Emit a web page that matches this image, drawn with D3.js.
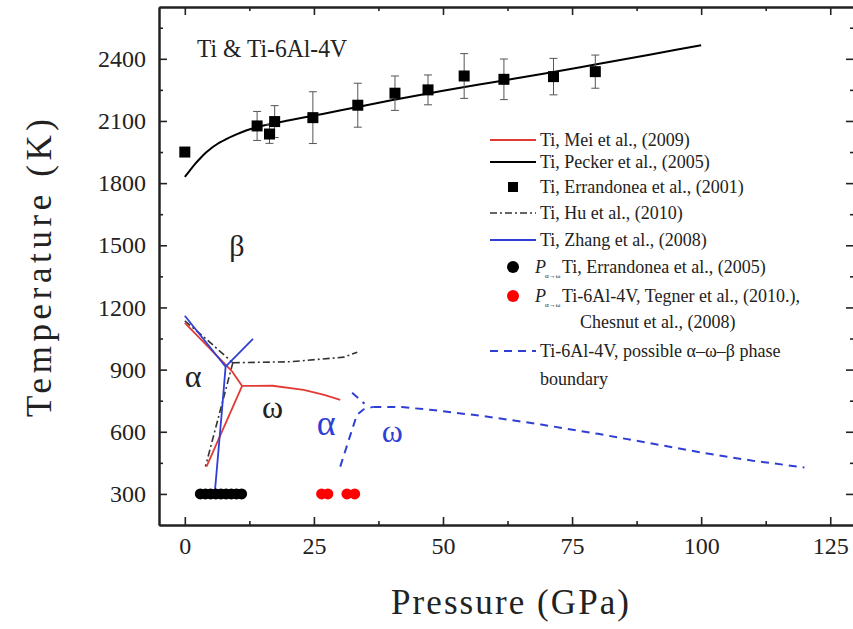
<!DOCTYPE html>
<html><head><meta charset="utf-8">
<script src="https://cdn.jsdelivr.net/npm/d3@7"></script>
<style>
html,body{margin:0;padding:0;background:#fff;}
svg{display:block;font-family:"Liberation Serif","Times New Roman",serif;}
</style>
</head><body>
<svg id="c" width="853" height="629"></svg>
<script>
// ---------- data ----------
const xTickValues = [0, 25, 50, 75, 100, 125];
const xMinorTicks = [12.5, 37.5, 62.5, 87.5, 112.5];
const yTickValues = [300, 600, 900, 1200, 1500, 1800, 2100, 2400];
const yMinorTicks = [450, 750, 1050, 1350, 1650, 1950, 2250, 2550];

// Ti, Pecker et al. (2005) melting curve
const peckerP = [0, 1, 2, 3, 4, 5, 6, 8, 10, 12, 14, 17, 20, 25, 30, 40, 50, 60, 70, 80, 90, 100];
const peckerT = [1830, 1862, 1893, 1920, 1945, 1966, 1984, 2012, 2035, 2055, 2070, 2087, 2102, 2126, 2150, 2200, 2246, 2288, 2330, 2375, 2420, 2465];

// Ti, Errandonea et al. (2001) melting points with error bars
const errandoneaP = [0, 14.0, 16.4, 17.4, 24.8, 33.5, 40.7, 47.1, 54.1, 61.8, 71.4, 79.5];
const errandoneaT = [1950, 2076, 2037, 2097, 2116, 2176, 2234, 2250, 2317, 2301, 2314, 2338];
const errandoneaErr = [0, 70, 45, 77, 125, 106, 83, 72, 108, 98, 88, 80];

// Ti, Mei et al. (2009) phase boundaries
const meiAlphaBeta = [[0, 1125], [9.2, 890], [11.1, 821]];
const meiAlphaOmega = [[11.1, 821], [4.2, 432]];
const meiOmegaBeta = [[11.1, 821], [17, 822], [23, 802], [27, 778], [30.1, 754]];

// Ti, Hu et al. (2010) phase boundaries
const huAlphaBeta = [[0, 1135], [4, 1051], [9.3, 933]];
const huAlphaOmega = [[9.3, 933], [4.0, 432]];
const huOmegaBeta = [[9.3, 933], [20.5, 938], [30.8, 960], [33.4, 984]];

// Ti, Zhang et al. (2008) phase boundaries
const zhangAlphaBeta = [[0, 1160], [7.9, 914]];
const zhangOmegaBeta = [[7.9, 914], [13.2, 1048]];
const zhangAlphaOmega = [[7.9, 914], [7.2, 705], [5.8, 305]];

// P alpha->omega, Ti, Errandonea et al. (2005)
const errandonea2005P = [3, 4, 5, 6, 7, 8, 9, 10, 11];
const errandonea2005T = [300, 300, 300, 300, 300, 300, 300, 300, 300];

// P alpha->omega, Ti-6Al-4V, Tegner (2010), Chesnut (2008)
const tegnerP = [26.5, 27.7, 31.4, 32.9];
const tegnerT = [300, 300, 300, 300];

// Ti-6Al-4V possible alpha-omega-beta boundary
const alloyAlphaBeta = [[32.4, 788], [34.8, 735]];
const alloyAlphaOmega = [[30.1, 432], [33.3, 680], [34.6, 708], [36.5, 720]];
const alloyOmegaBeta = [[36.5, 720], [42, 719], [48, 705], [58, 675], [69, 635], [80, 590], [90, 545], [100, 500], [110, 460], [120, 428]];

// ---------- chart ----------
const svg = d3.select("#c");
const x = d3.scaleLinear().domain([-5, 129.6]).range([159, 854]);
const y = d3.scaleLinear().domain([150, 2650]).range([525, 7]);

const RED = "#e23b36", BLUE = "#2f3fd4", BLACK = "#000";
const axisColor = "#222";
const fmt = d3.format("d");

function styleAxis(g) {
  g.select(".domain").attr("stroke", axisColor).attr("stroke-width", 2);
  g.selectAll(".tick line").attr("stroke", axisColor).attr("stroke-width", 1.6);
  g.selectAll(".tick text").attr("fill", "#222").style("font-size", "24px")
    .style("font-family", '"Liberation Serif","Times New Roman",serif');
}

// bottom
svg.append("g").attr("transform", `translate(0,${y.range()[0]})`)
  .call(d3.axisBottom(x).tickValues(xTickValues).tickFormat(fmt).tickSize(-8).tickSizeOuter(0).tickPadding(12))
  .call(styleAxis);
svg.append("g").attr("transform", `translate(0,${y.range()[0]})`)
  .call(d3.axisBottom(x).tickValues(xMinorTicks).tickSize(-4).tickSizeOuter(0).tickFormat(""))
  .call(styleAxis);
// top
svg.append("g").attr("transform", `translate(0,${y.range()[1]})`)
  .call(d3.axisTop(x).tickValues(xTickValues).tickSize(-8).tickSizeOuter(0).tickFormat(""))
  .call(styleAxis);
svg.append("g").attr("transform", `translate(0,${y.range()[1]})`)
  .call(d3.axisTop(x).tickValues(xMinorTicks).tickSize(-4).tickSizeOuter(0).tickFormat(""))
  .call(styleAxis);
// left
svg.append("g").attr("transform", `translate(${x.range()[0]},0)`)
  .call(d3.axisLeft(y).tickValues(yTickValues).tickFormat(fmt).tickSize(-8).tickSizeOuter(0).tickPadding(13))
  .call(styleAxis);
svg.append("g").attr("transform", `translate(${x.range()[0]},0)`)
  .call(d3.axisLeft(y).tickValues(yMinorTicks).tickSize(-4).tickSizeOuter(0).tickFormat(""))
  .call(styleAxis);
// right
svg.append("g").attr("transform", `translate(${x.range()[1]},0)`)
  .call(d3.axisRight(y).tickValues(yTickValues).tickSize(-8).tickSizeOuter(0).tickFormat(""))
  .call(styleAxis);
svg.append("g").attr("transform", `translate(${x.range()[1]},0)`)
  .call(d3.axisRight(y).tickValues(yMinorTicks).tickSize(-4).tickSizeOuter(0).tickFormat(""))
  .call(styleAxis);

// axis titles
svg.append("text").attr("x", 510).attr("y", 614).attr("text-anchor", "middle")
  .attr("textLength", 238).attr("lengthAdjust", "spacing")
  .style("font-size", "35px").attr("fill", "#222").text("Pressure (GPa)");
svg.append("text").attr("transform", "translate(51,268) rotate(-90)").attr("text-anchor", "middle")
  .attr("textLength", 298).attr("lengthAdjust", "spacing")
  .style("font-size", "35px").attr("fill", "#222").text("Temperature (K)");

// title
svg.append("text").attr("x", 197).attr("y", 57).attr("textLength", 150).attr("lengthAdjust", "spacingAndGlyphs")
  .style("font-size", "25px").attr("fill", "#222").text("Ti & Ti-6Al-4V");

const line = d3.line().x(d => x(d[0])).y(d => y(d[1]));
const plot = svg.append("g");

function path(data, color, width, dash) {
  const p = plot.append("path").datum(data).attr("d", line)
    .attr("fill", "none").attr("stroke", color).attr("stroke-width", width)
    .attr("stroke-linejoin", "round");
  if (dash) p.attr("stroke-dasharray", dash);
  return p;
}

// Pecker curve
const peckerData = peckerP.map((p, i) => [p, peckerT[i]]);
plot.append("path").datum(peckerData)
  .attr("d", d3.line().x(d => x(d[0])).y(d => y(d[1])).curve(d3.curveMonotoneX))
  .attr("fill", "none").attr("stroke", BLACK).attr("stroke-width", 2);

// Error bars and squares
errandoneaP.forEach((p, i) => {
  const e = errandoneaErr[i];
  if (e > 0) {
    const cx = x(p), y1 = y(errandoneaT[i] - e), y2 = y(errandoneaT[i] + e);
    plot.append("line").attr("x1", cx).attr("x2", cx).attr("y1", y1).attr("y2", y2).attr("stroke", "#555").attr("stroke-width", 1);
    [y1, y2].forEach(yy => plot.append("line").attr("x1", cx - 4).attr("x2", cx + 4).attr("y1", yy).attr("y2", yy).attr("stroke", "#555").attr("stroke-width", 1));
  }
});
plot.selectAll("rect.sq").data(errandoneaP.map((p, i) => [p, errandoneaT[i]])).join("rect")
  .attr("x", d => x(d[0]) - 5.5).attr("y", d => y(d[1]) - 5.5).attr("width", 11).attr("height", 11).attr("fill", BLACK);

// Hu dash-dot
const HUDASH = "7,3,2,3";
path(huAlphaBeta, "#333", 1.6, HUDASH);
path(huAlphaOmega, "#333", 1.6, HUDASH);
path(huOmegaBeta, "#333", 1.6, HUDASH);

// Mei red
path(meiAlphaBeta, RED, 1.8);
path(meiAlphaOmega, RED, 1.8);
path(meiOmegaBeta, RED, 1.8);

// Zhang blue
path(zhangAlphaBeta, BLUE, 1.8);
path(zhangOmegaBeta, BLUE, 1.8);
path(zhangAlphaOmega, BLUE, 1.8);

// Ti-6Al-4V dashed
path(alloyAlphaBeta, BLUE, 2, "8,6");
path(alloyAlphaOmega, BLUE, 2, "8,6");
path(alloyOmegaBeta, BLUE, 2, "8,6");

// dots
plot.selectAll("circle.blk").data(errandonea2005P.map((p, i) => [p, errandonea2005T[i]])).join("circle").attr("class", "blk")
  .attr("cx", d => x(d[0])).attr("cy", d => y(d[1])).attr("r", 5.5).attr("fill", BLACK);
plot.selectAll("circle.red").data(tegnerP.map((p, i) => [p, tegnerT[i]])).join("circle").attr("class", "red")
  .attr("cx", d => x(d[0])).attr("cy", d => y(d[1])).attr("r", 5.5).attr("fill", "#ff0000");

// phase labels
const phaseLabels = [
  { t: "β", p: 10.1, T: 1497, c: "#222", s: 30 },
  { t: "α", p: 1.6, T: 865, c: "#222", s: 32 },
  { t: "ω", p: 17, T: 715, c: "#222", s: 32 },
  { t: "α", p: 27.4, T: 640, c: BLUE, s: 36 },
  { t: "ω", p: 40.2, T: 602, c: BLUE, s: 32 }
];
svg.selectAll("text.ph").data(phaseLabels).join("text").attr("class", "ph")
  .attr("x", d => x(d.p)).attr("y", d => y(d.T)).attr("dy", "0.33em").attr("text-anchor", "middle")
  .attr("fill", d => d.c).style("font-size", d => d.s + "px").text(d => d.t);

// legend
const legendRows = [
  { type: "line", color: RED, text: "Ti, Mei et al., (2009)" },
  { type: "line", color: BLACK, text: "Ti, Pecker et al., (2005)" },
  { type: "square", text: "Ti, Errandonea et al., (2001)" },
  { type: "dashdot", text: "Ti, Hu et al., (2010)" },
  { type: "line", color: BLUE, text: "Ti, Zhang et al., (2008)" },
  { type: "dot", color: BLACK, sub: true, text: "Ti, Errandonea et al., (2005)" },
  { type: "dot", color: "#ff0000", sub: true, text: "Ti-6Al-4V, Tegner et al., (2010.)," },
  { type: "cont", text: "Chesnut et al., (2008)" },
  { type: "dash", color: BLUE, text: "Ti-6Al-4V, possible α–ω–β phase" },
  { type: "none", text: "boundary" }
];
const legendY = [140, 162, 187, 213, 240, 267, 296, 322, 351, 379];
const lg = svg.append("g").style("font-size", "18px");
legendRows.forEach((r, i) => {
  const yy = legendY[i];
  const x0 = 490, x1 = 536;
  if (r.type === "line") lg.append("line").attr("x1", x0).attr("x2", x1).attr("y1", yy).attr("y2", yy).attr("stroke", r.color).attr("stroke-width", 1.8);
  if (r.type === "dashdot") lg.append("line").attr("x1", x0).attr("x2", x1).attr("y1", yy).attr("y2", yy).attr("stroke", "#333").attr("stroke-width", 1.6).attr("stroke-dasharray", HUDASH);
  if (r.type === "dash") lg.append("line").attr("x1", x0).attr("x2", x1).attr("y1", yy).attr("y2", yy).attr("stroke", r.color).attr("stroke-width", 2).attr("stroke-dasharray", "8,6");
  if (r.type === "square") lg.append("rect").attr("x", 508).attr("y", yy - 5).attr("width", 10).attr("height", 10).attr("fill", BLACK);
  if (r.type === "dot") lg.append("circle").attr("cx", 513).attr("cy", yy).attr("r", 6).attr("fill", r.color);
  let tx = 540;
  if (r.sub) {
    lg.append("text").attr("x", 535).attr("y", yy).attr("dy", "0.33em").style("font-style", "italic").attr("fill", "#222").text("P");
    lg.append("text").attr("x", 545).attr("y", yy + 11).style("font-size", "7px").attr("fill", "#222").text("α→ω");
    tx = 562;
  }
  if (r.type === "cont") tx = 580;
  lg.append("text").attr("x", tx).attr("y", yy).attr("dy", "0.33em").attr("fill", "#222").text(r.text);
});
</script>
</body></html>
